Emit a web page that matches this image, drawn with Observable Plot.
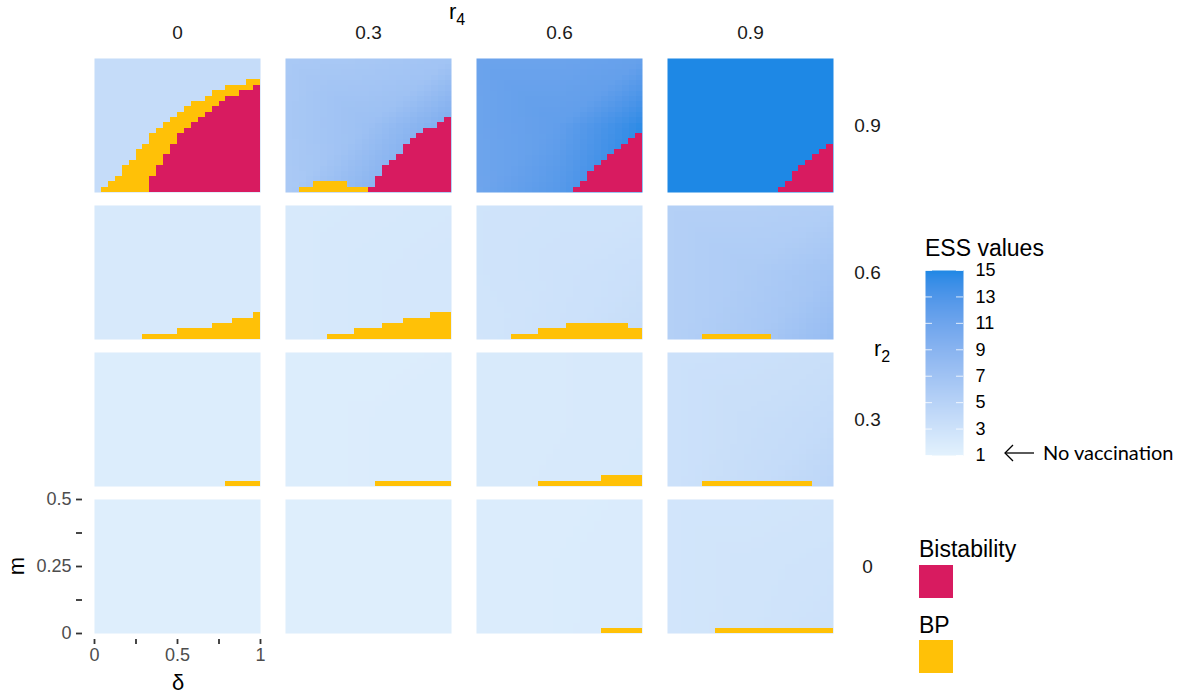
<!DOCTYPE html>
<html><head><meta charset="utf-8">
<script src="https://cdn.jsdelivr.net/npm/d3@7"></script>
<script src="https://cdn.jsdelivr.net/npm/@observablehq/plot@0.6"></script>
<style>
body{margin:0;background:#fff;}
#wrap{position:relative;width:1184px;height:699px;font-family:"Liberation Sans",Arial,sans-serif;}
#main{position:absolute;left:0;top:0;}
#ess{position:absolute;left:925px;top:250px;}
#notes{position:absolute;left:0;top:0;pointer-events:none;}
</style></head><body><div id="wrap"><div id="main"></div><div id="ess"></div></div>
<script>
// ---- facet levels and grid ----
const r4Levels = [0, 0.3, 0.6, 0.9];
const r2Levels = [0.9, 0.6, 0.3, 0];
const nDelta = 24;
const nM = 25;
const mMax = 0.5;
const deltaTicks = [0, 0.25, 0.5, 0.75, 1];
const mTicks = [0, 0.125, 0.25, 0.375, 0.5];
const essTicks = [1, 3, 5, 7, 9, 11, 13, 15];

// ---- ESS values sampled on a 3x3 grid per panel (rows m=0.5,0.25,0; cols delta=0,0.5,1) ----
const sampleDelta = [0, 0.5, 1];
const sampleM = [0.5, 0.25, 0];
const ess_r2_09 = [
  [3.8,3.8,3.8, 3.8,3.8,3.8, 3.8,3.8,3.8],
  [6.2,6.4,6.9, 6.3,7.4,10.0, 6.1,8.8,11.5],
  [11.2,11.2,11.6, 11.1,11.9,14.6, 11.0,12.6,15],
  [15,15,15, 15,15,15, 15,15,15]
];
const ess_r2_06 = [
  [2.1,2.1,2.1, 2.1,2.1,2.1, 2.1,2.1,2.1],
  [2.1,2.2,2.3, 2.1,2.3,2.4, 2.1,2.3,2.4],
  [2.8,2.9,2.9, 2.8,3.0,3.3, 2.7,3.1,3.7],
  [5.3,5.3,5.5, 5.3,5.9,6.8, 5.3,6.2,7.9]
];
const ess_r2_03 = [
  [1.65,1.65,1.65, 1.65,1.65,1.65, 1.65,1.65,1.65],
  [1.65,1.65,1.7, 1.65,1.7,1.75, 1.65,1.7,1.75],
  [2.0,2.05,2.15, 2.0,2.05,2.15, 2.0,2.1,2.2],
  [3.1,3.2,3.4, 3.1,3.5,3.9, 3.1,3.7,4.6]
];
const ess_r2_00 = [
  [1.5,1.5,1.5, 1.5,1.5,1.5, 1.5,1.5,1.5],
  [1.5,1.5,1.5, 1.5,1.5,1.5, 1.5,1.5,1.5],
  [1.7,1.75,1.85, 1.7,1.8,1.85, 1.7,1.8,1.9],
  [2.6,2.6,2.7, 2.6,2.75,2.9, 2.6,2.8,3.1]
];

// ---- Bistability region: top (in m-grid rows) for each of the 24 delta columns, r2 = 0.9 ----
const bist_r2_09 = [
  [0,0,0,0,0,0,0,0,3,5,7,9,11,12,13,14,15,16,17,18,18,19,19,20],
  [0,0,0,0,0,0,0,0,0,0,0,0,1,3,5,6,7,9,10,11,12,12,13,14],
  [0,0,0,0,0,0,0,0,0,0,0,0,0,0,1,2,4,5,6,7,8,9,10,11],
  [0,0,0,0,0,0,0,0,0,0,0,0,0,0,0,0,1,2,4,5,6,7,8,9]
];
// ---- BP region: top (in m-grid rows) for each delta column ----
const bp_r2_09 = [
  [0,1,2,3,5,6,8,9,11,12,13,14,15,16,17,17,18,19,19,20,20,20,21,21],
  [0,0,1,1,2,2,2,2,2,1,1,1,0,0,0,0,0,0,0,0,0,0,0,0],
  [0,0,0,0,0,0,0,0,0,0,0,0,0,0,0,0,0,0,0,0,0,0,0,0],
  [0,0,0,0,0,0,0,0,0,0,0,0,0,0,0,0,0,0,0,0,0,0,0,0]
];
const bp_r2_06 = [
  [0,0,0,0,0,0,0,1,1,1,1,1,2,2,2,2,2,3,3,3,4,4,4,5],
  [0,0,0,0,0,0,1,1,1,1,2,2,2,2,3,3,3,4,4,4,4,5,5,5],
  [0,0,0,0,0,1,1,1,1,2,2,2,2,3,3,3,3,3,3,3,3,3,2,2],
  [0,0,0,0,0,1,1,1,1,1,1,1,1,1,1,0,0,0,0,0,0,0,0,0]
];
const bp_r2_03 = [
  [0,0,0,0,0,0,0,0,0,0,0,0,0,0,0,0,0,0,0,1,1,1,1,1],
  [0,0,0,0,0,0,0,0,0,0,0,0,0,1,1,1,1,1,1,1,1,1,1,1],
  [0,0,0,0,0,0,0,0,0,1,1,1,1,1,1,1,1,1,2,2,2,2,2,2],
  [0,0,0,0,0,1,1,1,1,1,1,1,1,1,1,1,1,1,1,1,1,0,0,0]
];
const bp_r2_00 = [
  [0,0,0,0,0,0,0,0,0,0,0,0,0,0,0,0,0,0,0,0,0,0,0,0],
  [0,0,0,0,0,0,0,0,0,0,0,0,0,0,0,0,0,0,0,0,0,0,0,0],
  [0,0,0,0,0,0,0,0,0,0,0,0,0,0,0,0,0,0,1,1,1,1,1,1],
  [0,0,0,0,0,0,0,1,1,1,1,1,1,1,1,1,1,1,1,1,1,1,1,1]
];

const bistColor = "#d81b60";
const bpColor = "#ffc107";

// ---- build tables ----
const essRows = [ess_r2_09, ess_r2_06, ess_r2_03, ess_r2_00];
const bistRows = [bist_r2_09, null, null, null];
const bpRows = [bp_r2_09, bp_r2_06, bp_r2_03, bp_r2_00];
const mStep = mMax / nM;
const samples = [];
const bistCells = [];
const bpCells = [];
r2Levels.forEach((r2, ri) => {
  r4Levels.forEach((r4, ci) => {
    const ess = essRows[ri][ci];
    sampleM.forEach((m, a) => sampleDelta.forEach((delta, b) => {
      samples.push({r2, r4, delta, m, ess: ess[a * 3 + b]});
    }));
    const bist = bistRows[ri] ? bistRows[ri][ci] : null;
    const bp = bpRows[ri][ci];
    for (let i = 0; i < nDelta; i++) {
      const bt = bist ? bist[i] : 0;
      const pt = bp[i];
      const x1 = i / nDelta, x2 = (i + 1) / nDelta;
      if (bt > 0) bistCells.push({r2, r4, x1, x2, y1: 0, y2: bt * mStep});
      if (pt > bt) bpCells.push({r2, r4, x1, x2, y1: bt * mStep, y2: pt * mStep});
    }
  });
});

const colorScale = {type: "linear", domain: [1, 15], range: ["#e3f2fd", "#1e88e5"], interpolate: "lab"};
const fontFam = "'Liberation Sans', Arial, sans-serif";

const chart = Plot.plot({
  width: 900, height: 699,
  marginLeft: 94, marginRight: 67, marginTop: 58, marginBottom: 66,
  style: {fontFamily: fontFam, fontSize: "18px", color: "#1a1a1a", background: "white"},
  fx: {domain: r4Levels, paddingInner: 25 / 191, paddingOuter: 0, round: false, label: null},
  fy: {domain: r2Levels, paddingInner: 13 / 147, paddingOuter: 0, round: false, label: null},
  x: {domain: [0, 1]},
  y: {domain: [0, mMax]},
  color: colorScale,
  marks: [
    Plot.raster(samples, {x: "delta", y: "m", fill: "ess", fx: "r4", fy: "r2",
      x1: 0, x2: 1, y1: 0, y2: mMax, width: nDelta, height: nM,
      interpolate: "barycentric", imageRendering: "pixelated"}),
    Plot.rect(bistCells, {x1: "x1", x2: "x2", y1: "y1", y2: "y2", fx: "r4", fy: "r2", fill: bistColor, shapeRendering: "crispEdges"}),
    Plot.rect(bpCells, {x1: "x1", x2: "x2", y1: "y1", y2: "y2", fx: "r4", fy: "r2", fill: bpColor, shapeRendering: "crispEdges"}),
    Plot.axisFx({anchor: "top", tickSize: 0, tickPadding: 20, fontSize: 19, label: null, color: "#1a1a1a"}),
    Plot.axisFy({anchor: "right", tickSize: 0, tickPadding: 34, textAnchor: "middle", fontSize: 19, label: null, color: "#1a1a1a"}),
    Plot.axisX(deltaTicks, {fx: () => 0, fy: () => 0, anchor: "bottom", tickSize: 5, dy: 6, tickPadding: 4,
      strokeWidth: 1.8, stroke: "#333", color: "#4d4d4d", fontSize: 18, label: null,
      tickFormat: d => (d === 0.25 || d === 0.75) ? "" : String(d)}),
    Plot.axisY(mTicks, {fx: () => 0, fy: () => 0, anchor: "left", tickSize: 6, dx: -12, tickPadding: 5,
      strokeWidth: 1.8, stroke: "#333", color: "#4d4d4d", fontSize: 18, label: null,
      tickFormat: d => (d === 0.125 || d === 0.375) ? "" : String(d)})
  ]
});
document.getElementById("main").appendChild(chart);

// ---- ESS colour bar ----
const essLegend = Plot.plot({
  width: 100, height: 224,
  marginLeft: 0, marginRight: 62, marginTop: 20, marginBottom: 19,
  style: {fontFamily: fontFam, fontSize: "18px", color: "#000", background: "transparent", overflow: "visible"},
  x: {domain: [0, 1], axis: null},
  y: {domain: [1, 15]},
  color: colorScale,
  marks: [
    Plot.raster({fill: (x, y) => y, x1: 0, x2: 1, y1: 1, y2: 15}),
    Plot.tickY(essTicks, {y: d => d, stroke: "white", strokeOpacity: 0.8, insetRight: 31}),
    Plot.tickY(essTicks, {y: d => d, stroke: "white", strokeOpacity: 0.8, insetLeft: 31}),
    Plot.axisY(essTicks, {anchor: "right", tickSize: 0, tickPadding: 12, fontSize: 18, color: "#000", label: null})
  ]
});
document.getElementById("ess").appendChild(essLegend);

// ---- titles and legends (text) ----
const NS = "http://www.w3.org/2000/svg";
const svg = document.createElementNS(NS, "svg");
svg.setAttribute("id", "notes");
svg.setAttribute("width", 1184);
svg.setAttribute("height", 699);
svg.style.fontFamily = fontFam;
svg.innerHTML = `
  <text x="457" y="19" font-size="22" text-anchor="middle" fill="#000">r<tspan dy="6" font-size="16">4</tspan></text>
  <text x="874" y="356" font-size="22" fill="#000">r<tspan dy="6" font-size="16">2</tspan></text>
  <text transform="translate(24,566) rotate(-90)" font-size="22" text-anchor="middle" fill="#000">m</text>
  <text x="178" y="690" font-size="22" text-anchor="middle" fill="#000">δ</text>
  <text x="925" y="256" font-size="23" fill="#000">ESS values</text>
  <line x1="1005" y1="453" x2="1034" y2="453" stroke="#000" stroke-width="1.3"/>
  <polyline points="1013,445 1005,453 1013,461" fill="none" stroke="#000" stroke-width="1.3"/>
  <text x="1043" y="460" font-size="20" font-family="Lato, sans-serif" fill="#000">No vaccination</text>
  <text x="919" y="557" font-size="23" fill="#000">Bistability</text>
  <rect x="919" y="565" width="34" height="33" fill="${bistColor}"/>
  <text x="919" y="633" font-size="23" fill="#000">BP</text>
  <rect x="919" y="640" width="34" height="33" fill="${bpColor}"/>
`;
document.getElementById("wrap").appendChild(svg);
</script>
</body></html>
